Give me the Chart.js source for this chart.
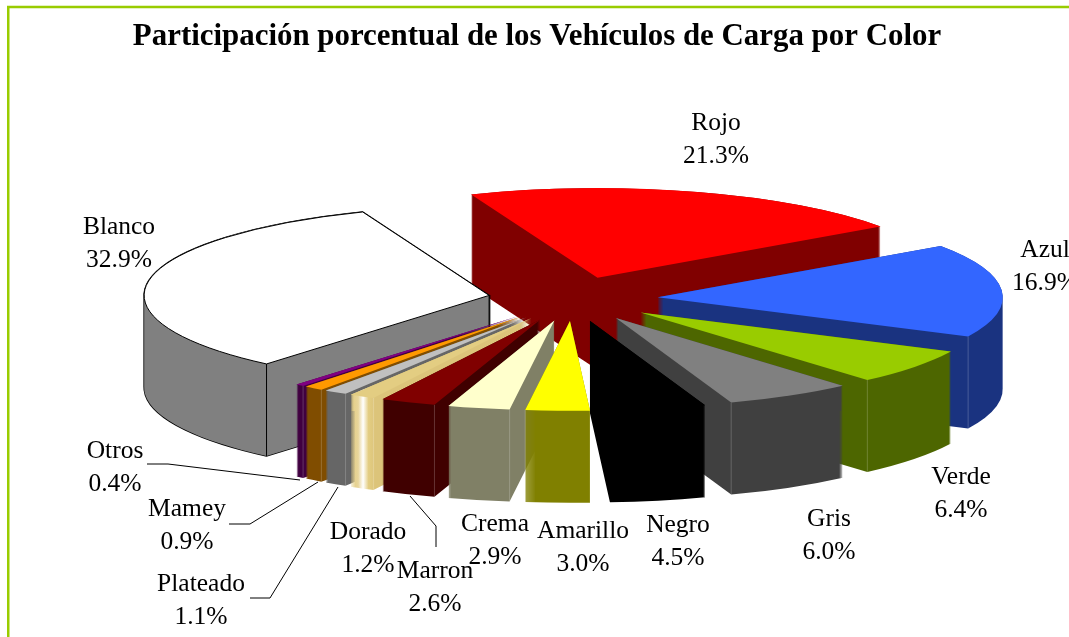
<!DOCTYPE html>
<html>
<head>
<meta charset="utf-8">
<title>Vehículos de Carga por Color</title>
<script src="https://cdn.jsdelivr.net/npm/chart.js@4"></script>
<style>
  html, body { margin: 0; padding: 0; background: #fff; overflow: hidden; }
  canvas { display: block; }
</style>
</head>
<body>
<canvas id="pieChart" width="1069" height="637"></canvas>
<script>
const chartTitle = 'Participación porcentual de los Vehículos de Carga por Color';
const categories = ['Rojo', 'Azul', 'Verde', 'Gris', 'Negro', 'Amarillo', 'Crema', 'Marron', 'Dorado', 'Plateado', 'Mamey', 'Otros', 'Blanco'];
const shares = [21.3, 16.9, 6.4, 6.0, 4.5, 3.0, 2.9, 2.6, 1.2, 1.1, 0.9, 0.4, 32.9];
const topColors = ['#ff0000', '#3366ff', '#99cc00', '#808080', '#000000', '#ffff00', '#ffffcc', '#800000', '#e3cd82', '#c0c0c0', '#ff9900', '#800080', '#ffffff'];
const wallColors = ['#800000', '#1a3380', '#4d6600', '#404040', '#000000', '#808000', '#808066', '#400000', '#e3cd82', '#666666', '#804d00', '#400040', '#808080'];

// where the labels sit, hand placed like in the original
const labelSpots = [[716, 123], [1045, 250], [961, 477], [829, 519], [678, 525], [583, 531], [495, 524], [435, 571], [368, 532], [201, 584], [187, 509], [115, 451], [119, 227]];
const labelGap = 33;
const leaderLines = [
    [[147, 464], [168, 464], [300, 480]],
    [[229, 524], [250, 524], [318, 482]],
    [[250, 598], [270, 598], [338, 487]],
    [[436, 547], [436, 526], [410, 496]],
];

const pieCenter = { x: 573, y: 299 };
const pieRadius = 345;
const tilt = 0.26;
const explode = 85;
const depth = 92;

function midAngle(arc) {
    return (arc.startAngle + arc.endAngle) / 2;
}

// pie space -> screen: squash the circle and push the slice out from the centre
function applySliceTransform(ctx, arc, dy) {
    const mid = midAngle(arc);
    ctx.translate(pieCenter.x + Math.cos(mid) * explode, pieCenter.y + Math.sin(mid) * explode * tilt + dy);
    ctx.scale(1, tilt);
    ctx.translate(-arc.x, -arc.y);
}

function addSlice(ctx, arc, dy) {
    ctx.save();
    applySliceTransform(ctx, arc, dy);
    ctx.moveTo(arc.x, arc.y);
    ctx.arc(arc.x, arc.y, arc.outerRadius, arc.startAngle, arc.endAngle);
    ctx.closePath();
    ctx.restore();
}

// every step of the sweep in one path, so the edge smoothing does not pile up into stripes
function traceSweep(ctx, arc) {
    ctx.beginPath();
    for (let dy = depth; dy >= 0; dy--) {
        addSlice(ctx, arc, dy);
    }
}

function screenPoint(arc, angle, radius) {
    const mid = midAngle(arc);
    return {
        x: pieCenter.x + Math.cos(mid) * explode + Math.cos(angle) * radius,
        y: pieCenter.y + (Math.sin(mid) * explode + Math.sin(angle) * radius) * tilt,
    };
}

function wallFill(ctx, arc, index) {
    if (categories[index] !== 'Dorado') return wallColors[index];
    // the gold slice is the only one with a shine on its side
    const a = screenPoint(arc, arc.endAngle, arc.outerRadius).x;
    const b = screenPoint(arc, arc.startAngle, arc.outerRadius).x;
    const grad = ctx.createLinearGradient(a, 0, b + 2, 0);
    grad.addColorStop(0, '#e3cd82');
    grad.addColorStop(0.3, '#e8d59a');
    grad.addColorStop(0.5, '#ffffff');
    grad.addColorStop(0.72, '#e3cd82');
    grad.addColorStop(1, '#dcc47a');
    return grad;
}

function drawWall(ctx, arc, index, outlined) {
    traceSweep(ctx, arc);
    if (outlined) {
        ctx.strokeStyle = '#000';
        ctx.lineWidth = 1.5;
        ctx.stroke();
    }
    ctx.fillStyle = wallFill(ctx, arc, index);
    ctx.fill();
    // corner between the cut face and the rim
    if (wallColors[index] === '#000000') return;
    const cornerAngle = Math.cos(midAngle(arc)) > -0.05 ? arc.endAngle : arc.startAngle;
    const corner = screenPoint(arc, cornerAngle, arc.outerRadius);
    ctx.strokeStyle = outlined ? '#000' : 'rgba(255,255,255,0.2)';
    ctx.lineWidth = 1;
    ctx.beginPath();
    ctx.moveTo(corner.x, corner.y);
    ctx.lineTo(corner.x, corner.y + depth);
    ctx.stroke();
}

const pie3d = {
    id: 'pie3d',
    beforeDraw(chart) {
        const ctx = chart.ctx;
        ctx.save();
        ctx.strokeStyle = '#99cc00';
        ctx.lineWidth = 2.5;
        ctx.beginPath();
        ctx.moveTo(8.25, chart.height);
        ctx.lineTo(8.25, 7);
        ctx.lineTo(chart.width, 7);
        ctx.stroke();
        ctx.restore();
    },
    // the library keeps the slice geometry, only the painting order and tilt are ours
    beforeDatasetsDraw(chart) {
        const ctx = chart.ctx;
        const meta = chart.getDatasetMeta(0);
        const order = meta.data.map((arc, i) => i)
            .sort((a, b) => Math.sin(midAngle(meta.data[a])) - Math.sin(midAngle(meta.data[b])));
        order.forEach(i => {
            const arc = meta.data[i];
            const outlined = arc.options.borderColor !== 'transparent';
            drawWall(ctx, arc, i, outlined);
            ctx.save();
            applySliceTransform(ctx, arc, 0);
            arc.draw(ctx);
            ctx.restore();
            if (outlined) {
                ctx.beginPath();
                addSlice(ctx, arc, 0);
                ctx.strokeStyle = arc.options.borderColor;
                ctx.lineWidth = 1;
                ctx.stroke();
            }
        });
        return false;
    },
    afterDraw(chart) {
        const ctx = chart.ctx;
        ctx.save();
        ctx.strokeStyle = '#000';
        ctx.lineWidth = 1;
        leaderLines.forEach(line => {
            ctx.beginPath();
            line.forEach(([x, y], i) => i ? ctx.lineTo(x, y) : ctx.moveTo(x, y));
            ctx.stroke();
        });
        ctx.fillStyle = '#000';
        ctx.font = '25.5px "Liberation Serif"';
        ctx.textAlign = 'center';
        ctx.textBaseline = 'middle';
        categories.forEach((name, i) => {
            const [x, y] = labelSpots[i];
            ctx.fillText(name, x, y);
            ctx.fillText(shares[i].toFixed(1) + '%', x, y + labelGap);
        });
        ctx.restore();
    },
};

new Chart(document.getElementById('pieChart'), {
    type: 'pie',
    plugins: [pie3d],
    data: {
        labels: categories,
        datasets: [{
            data: shares,
            backgroundColor: topColors,
            borderWidth: 0,
            borderColor: categories.map(name => name === 'Blanco' ? '#000000' : 'transparent'),
        }],
    },
    options: {
        responsive: false,
        animation: false,
        rotation: -21.5,
        radius: pieRadius,
        layout: { padding: { left: 5 } },
        plugins: {
            legend: { display: false },
            tooltip: { enabled: false },
            title: {
                display: true,
                text: chartTitle,
                color: '#000',
                font: { family: '"Liberation Serif"', size: 30.9, weight: 'bold' },
                padding: { top: 18, bottom: 0 },
            },
        },
    },
});
</script>
</body>
</html>
